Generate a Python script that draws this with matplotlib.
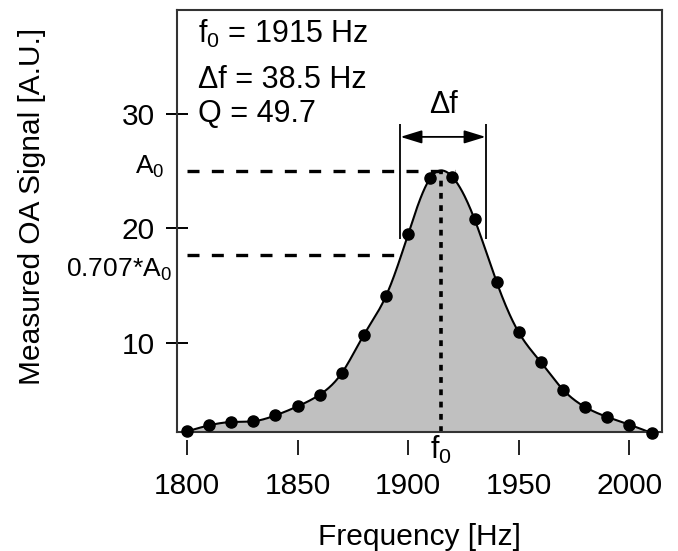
import numpy as np
import matplotlib.pyplot as plt
from matplotlib.transforms import blended_transform_factory

plt.rcParams['font.family'] = ['Liberation Sans', 'DejaVu Sans']
plt.rcParams['mathtext.default'] = 'regular'

# measured resonance curve
freq = [1800, 1810, 1820, 1830, 1840, 1850, 1860, 1870, 1880, 1890, 1900,
        1910, 1920, 1930, 1940, 1950, 1960, 1970, 1980, 1990, 2000, 2010]
signal = [2.25, 2.78, 3.07, 3.13, 3.65, 4.44, 5.46, 7.35, 10.7, 14.1, 19.5,
          24.4, 24.5, 20.8, 15.3, 10.9, 8.3, 5.9, 4.38, 3.51, 2.84, 2.11]

f0 = 1915
a0 = 25.0
half = 0.707 * a0
df_lo, df_hi = 1896.5, 1935.0
x_ticks = [1800, 1850, 1900, 1950, 2000]
y_ticks = [10, 20, 30]


def natural_spline(x, y, xs):
    x = np.asarray(x, float)
    y = np.asarray(y, float)
    n = len(x)
    h = np.diff(x)
    A = np.zeros((n, n))
    r = np.zeros(n)
    A[0, 0] = A[-1, -1] = 1
    for i in range(1, n - 1):
        A[i, i - 1] = h[i - 1]
        A[i, i] = 2 * (h[i - 1] + h[i])
        A[i, i + 1] = h[i]
        r[i] = 6 * ((y[i + 1] - y[i]) / h[i] - (y[i] - y[i - 1]) / h[i - 1])
    m = np.linalg.solve(A, r)
    idx = np.clip(np.searchsorted(x, xs) - 1, 0, n - 2)
    t0, t1 = x[idx], x[idx + 1]
    hh = t1 - t0
    a = (t1 - xs) / hh
    b = (xs - t0) / hh
    return a * y[idx] + b * y[idx + 1] + ((a**3 - a) * m[idx] + (b**3 - b) * m[idx + 1]) * hh**2 / 6


fig = plt.figure(figsize=(6.78, 5.51), dpi=100)
ax = fig.add_axes([0.261, 0.216, 0.715, 0.766])

xs = np.linspace(freq[0], freq[-1], 600)
ys = natural_spline(freq, signal, xs)
ax.fill_between(xs, ys, 0, color='#c0c0c0', lw=0)
ax.plot(xs, ys, color='k', lw=1.5)
ax.plot(freq, signal, 'o', color='k', ms=8, clip_on=False, zorder=5)

ax.set_xlim(1795.5, 2014.6)
ax.set_ylim(2.2, 39.1)

# A0 and 0.707*A0 guides
ax.plot([1800, 1921], [a0, a0], color='k', lw=2.4, ls=(0, (3.6, 3.7)))
ax.plot([1800, df_lo], [half, half], color='k', lw=2.4, ls=(0, (3.6, 3.7)))
ax.plot([f0, f0], [2.2, a0], color='k', lw=2.6, ls=(0, (1.6, 1.8)), clip_on=False)

# bandwidth marker
ax.vlines([df_lo, df_hi], 19.1, 29.1, color='k', lw=1.3)
ax.annotate('', xy=(df_lo, 28.0), xytext=(df_hi, 28.0),
            arrowprops=dict(arrowstyle='<|-|>,head_length=0.65,head_width=0.2',
                            mutation_scale=20, color='k', lw=1.3,
                            shrinkA=0, shrinkB=0))
ax.text((df_lo + df_hi) / 2, 30.8, 'Δf', fontsize=22, ha='center', va='center')

# parameter text
ax.text(0.043, 0.922, 'f$_0$ = 1915 Hz', transform=ax.transAxes, fontsize=22)
ax.text(0.043, 0.815, 'Δf = 38.5 Hz', transform=ax.transAxes, fontsize=22)
ax.text(0.043, 0.735, 'Q = 49.7', transform=ax.transAxes, fontsize=22)

# extra axis labels
tr = blended_transform_factory(ax.transAxes, ax.transData)
ax.text(-0.025, 25.4, 'A$_0$', transform=tr, fontsize=19, ha='right', va='center')
ax.text(-0.011, 16.4, '0.707*A$_0$', transform=tr, fontsize=19, ha='right', va='center')
trx = blended_transform_factory(ax.transData, ax.transAxes)
ax.text(f0, -0.004, 'f$_0$', transform=trx, fontsize=22, ha='center', va='top')

# x ticks sit a little below the frame
ax.set_xticks(x_ticks)
ax.vlines(x_ticks, -0.019, -0.055, transform=trx, color='#222222', lw=1.4, clip_on=False)
ax.set_yticks(y_ticks)
ax.tick_params(axis='x', length=0, pad=29, labelsize=21.5)
ax.tick_params(axis='y', direction='inout', length=16, width=1.4, pad=8, labelsize=21.5)
for s in ax.spines.values():
    s.set_linewidth(1.5)
    s.set_color('#333333')

ax.set_xlabel('Frequency [Hz]', fontsize=21.5)
ax.xaxis.set_label_coords(0.5, -0.215)
ax.set_ylabel('Measured OA Signal [A.U.]', fontsize=21.5)
ax.yaxis.set_label_coords(-0.27, 0.534)

fig.savefig('out.png', dpi=100)
